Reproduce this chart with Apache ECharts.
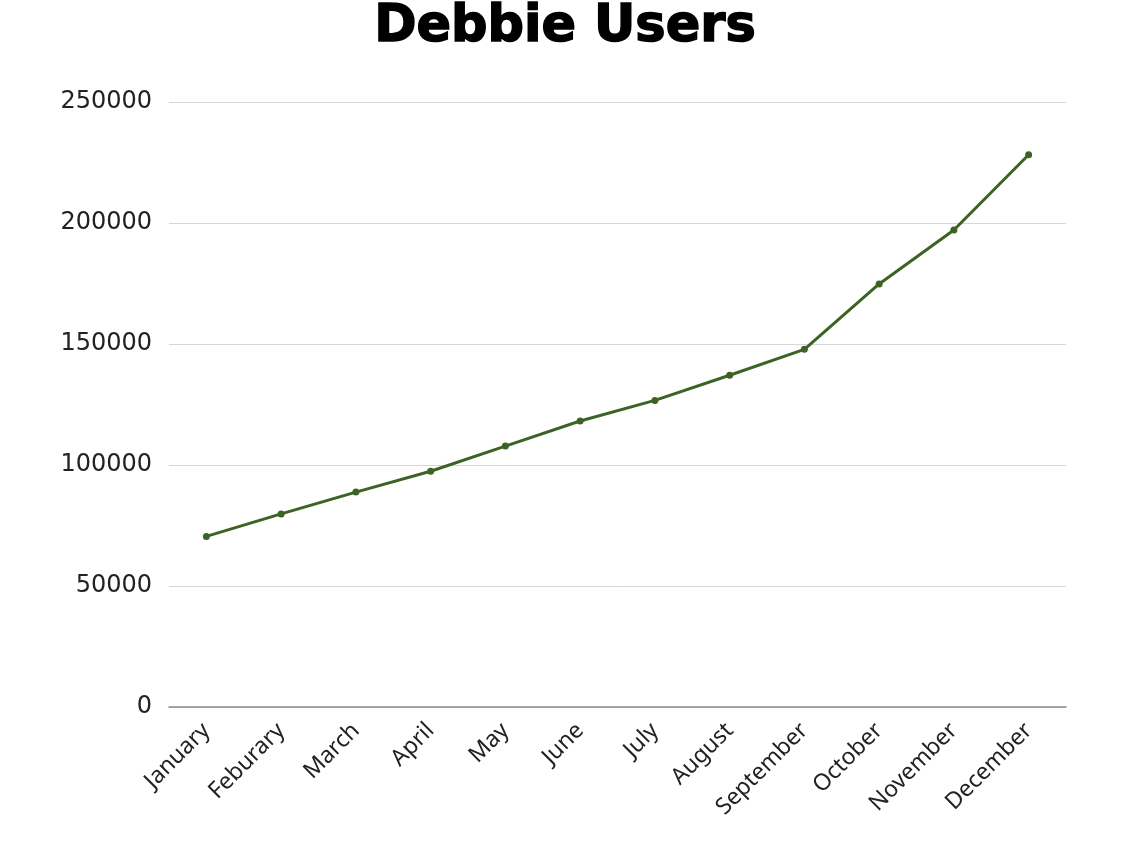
<!DOCTYPE html>
<html>
<head>
<meta charset="utf-8">
<script src="https://cdn.jsdelivr.net/npm/echarts@6/dist/echarts.min.js"></script>
<style>
  html, body { margin: 0; padding: 0; background: #fff; }
  #main { width: 1130px; height: 844px; }
</style>
</head>
<body>
<div id="main"></div>
<script>
// months as written on the chart
var months = ['January', 'Feburary', 'March', 'April', 'May', 'June', 'July',
  'August', 'September', 'October', 'November', 'December'];
// users per month
var users = [70500, 79800, 88800, 97400, 107800, 118200, 126700,
  137100, 147800, 174800, 197100, 228200];

var chart = echarts.init(document.getElementById('main'));
chart.setOption({
  animation: false,
  title: {
    text: 'Debbie Users',
    left: 'center',
    top: -3,
    textStyle: {
      fontFamily: 'DejaVu Sans', fontWeight: 'bold', fontSize: 51, color: '#000',
      textBorderColor: '#000', textBorderWidth: 1.5
    }
  },
  grid: { left: 169, right: 64, top: 102, bottom: 137 },
  xAxis: {
    type: 'category',
    data: months,
    axisLine: { lineStyle: { color: '#8c8c8c', width: 1.5 } },
    axisTick: { show: false },
    axisLabel: {
      rotate: 45, fontSize: 23, color: '#222', margin: 20,
      fontFamily: 'Noto Sans', interval: 0
    }
  },
  yAxis: {
    type: 'value',
    min: 0, max: 250000, interval: 50000,
    axisLine: { show: false },
    axisTick: { show: false },
    axisLabel: {
      fontSize: 24, color: '#222', margin: 17, fontFamily: 'DejaVu Sans',
      padding: [3, 0, 0, 0],
      formatter: function (v) { return String(v); }
    },
    splitLine: { lineStyle: { color: '#d6d6d6', width: 1 } }
  },
  series: [{
    type: 'line',
    data: users,
    symbol: 'circle',
    symbolSize: 7,
    lineStyle: { color: '#3d6324', width: 3 },
    itemStyle: { color: '#3d6324' }
  }]
});
</script>
</body>
</html>
